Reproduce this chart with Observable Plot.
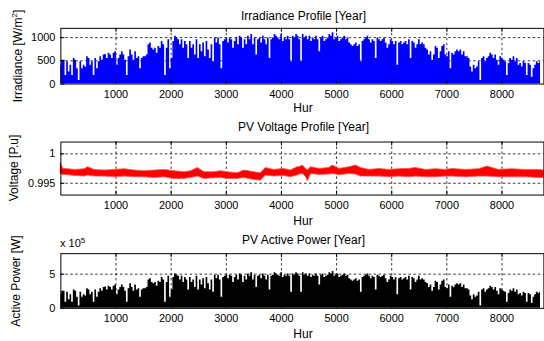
<!DOCTYPE html>
<html><head><meta charset="utf-8">
<script src="https://cdn.jsdelivr.net/npm/d3@7"></script>
<script src="https://cdn.jsdelivr.net/npm/@observablehq/plot@0.6"></script>
<style>
body{margin:0;background:#fff;}
#wrap{position:relative;width:544px;height:341px;overflow:hidden;font-family:"Liberation Sans",Arial,sans-serif;color:#000;}
#wrap svg{position:absolute;left:0;}
.t{position:absolute;font-size:12px;white-space:nowrap;transform:translate(-50%,-50%);line-height:14px;}
.yl{position:absolute;font-size:12px;white-space:nowrap;transform:translate(-50%,-50%) rotate(-90deg);line-height:14px;}
.sup{font-size:8px;position:relative;top:-5px;}
</style></head><body><div id="wrap"></div><script>
const STEP = 30.1;
const xTicks = [1000, 2000, 3000, 4000, 5000, 6000, 7000, 8000];
const irrTicks = [0, 500, 1000];
const voltTicks = [0.995, 1];
const powTicks = [0, 5];

// Irradiance envelope [W/m^2]
const irradiance = [
404,515,515,184,478,257,404,184,551,515,331,74,478,331,404,368,588,551,404,478,
184,551,331,478,588,515,625,639,551,662,625,551,662,698,404,551,625,698,625,515,
184,588,735,625,515,698,551,588,331,551,588,588,625,845,882,772,735,772,662,809,
772,919,845,184,772,956,331,551,919,1029,992,956,
845,956,772,919,845,551,919,772,845,625,956,551,845,698,882,588,919,735,551,845,
478,992,882,992,845,331,919,956,992,882,992,956,772,919,992,845,1029,992,772,956,
845,1029,956,1066,845,992,625,956,992,882,1029,956,845,992,551,956,992,1066,1029,992,
956,1066,919,992,956,1029,956,478,1029,992,1066,1029,956,
478,1066,992,1029,956,1029,919,992,956,1029,956,698,992,1029,919,956,992,1066,1029,1103,
956,992,1029,919,956,992,1029,956,992,882,845,809,845,882,809,845,478,919,956,992,
1029,956,882,956,919,551,992,956,919,956,992,882,772,845,956,919,845,919,404,882,
919,845,882,919,845,956,551,919,882,772,845,956,
845,882,845,772,735,625,698,515,625,809,772,551,698,809,845,625,588,698,331,662,
625,698,735,698,735,625,698,588,588,551,368,257,404,331,368,478,74,551,588,478,
551,588,662,625,551,625,515,404,588,551,515,478,184,441,551,515,588,478,551,404,
441,368,478,441,184,441,404,147,331,404,478,441,478
];

// Active power envelope [x 1e5 W]
const power = [
1.98,2.52,2.52,0.90,2.34,1.26,1.98,0.90,2.70,2.52,1.62,0.36,2.34,1.62,1.98,1.80,2.88,2.70,1.98,2.34,
0.90,2.70,1.62,2.34,2.88,2.52,3.06,3.13,2.70,3.24,3.06,2.70,3.24,3.42,1.98,2.70,3.06,3.42,3.06,2.52,
0.90,2.88,3.60,3.06,2.52,3.42,2.70,2.88,1.62,2.70,2.88,2.88,3.06,4.14,4.32,3.78,3.60,3.78,3.24,3.96,
3.78,4.50,4.14,0.90,3.78,4.68,1.62,2.70,4.50,5.04,4.86,4.68,
4.14,4.68,3.78,4.50,4.14,2.70,4.50,3.78,4.14,3.06,4.68,2.70,4.14,3.42,4.32,2.88,4.50,3.60,2.70,4.14,
2.34,4.86,4.32,4.86,4.14,1.62,4.50,4.68,4.86,4.32,4.86,4.68,3.78,4.50,4.86,4.14,5.04,4.86,3.78,4.68,
4.14,5.04,4.68,5.22,4.14,4.86,3.06,4.68,4.86,4.32,5.04,4.68,4.14,4.86,2.70,4.68,4.86,5.22,5.04,4.86,
4.68,5.22,4.50,4.86,4.68,5.04,4.68,2.34,5.04,4.86,5.22,5.04,4.68,
2.34,5.22,4.86,5.04,4.68,5.04,4.50,4.86,4.68,5.04,4.68,3.42,4.86,5.04,4.50,4.68,4.86,5.22,5.04,5.40,
4.68,4.86,5.04,4.50,4.68,4.86,5.04,4.68,4.86,4.32,4.14,3.96,4.14,4.32,3.96,4.14,2.34,4.50,4.68,4.86,
5.04,4.68,4.32,4.68,4.50,2.70,4.86,4.68,4.50,4.68,4.86,4.32,3.78,4.14,4.68,4.50,4.14,4.50,1.98,4.32,
4.50,4.14,4.32,4.50,4.14,4.68,2.70,4.50,4.32,3.78,4.14,4.68,
4.14,4.32,4.14,3.78,3.60,3.06,3.42,2.52,3.06,3.96,3.78,2.70,3.42,3.96,4.14,3.06,2.88,3.42,1.62,3.24,
3.06,3.42,3.60,3.42,3.60,3.06,3.42,2.88,2.88,2.70,1.80,1.26,1.98,1.62,1.80,2.34,0.36,2.70,2.88,2.34,
2.70,2.88,3.24,3.06,2.70,3.06,2.52,1.98,2.88,2.70,2.52,2.34,0.90,2.16,2.70,2.52,2.88,2.34,2.70,1.98,
2.16,1.80,2.34,2.16,0.90,2.16,1.98,0.72,1.62,1.98,2.34,2.16,2.34
];

// Voltage band (lower / upper edge of the noisy trace) [p.u.]
const voltHours = [0,42,132,253,434,494,614,795,976,1157,1337,1518,1699,1880,2061,2241,2362,2482,2603,2784,
2904,3024,3205,3326,3506,3627,3717,3868,4048,4169,4290,4327,4388,4448,4478,4539,4690,4871,4931,5052,
5232,5353,5443,5594,5775,5956,6137,6318,6439,6620,6800,6981,7102,7343,7585,7735,7946,8187,8429,8670,8760];
const voltLow = [0.99659,0.99642,0.99636,0.99625,0.99614,0.99631,0.99614,0.99614,0.99602,0.99614,0.99602,0.99602,0.99591,0.99602,0.99574,0.99574,0.99591,0.99614,0.99574,0.99585,
0.99591,0.99574,0.99574,0.99591,0.99557,0.99545,0.99631,0.99614,0.99625,0.99602,0.99631,0.99648,0.99659,0.99602,0.99534,0.99659,0.99642,0.99648,0.99659,0.99636,
0.99659,0.99648,0.99614,0.99614,0.99614,0.99602,0.99614,0.99602,0.99614,0.99602,0.99602,0.99614,0.99614,0.99602,0.99614,0.99614,0.99602,0.99602,0.99602,0.99591,0.99591];
const voltHigh = [0.99841,0.99744,0.99739,0.99727,0.99739,0.99773,0.99727,0.99716,0.99727,0.99739,0.99716,0.99705,0.99716,0.99727,0.99705,0.99688,0.99705,0.99761,0.99688,0.99688,
0.99705,0.99688,0.99670,0.99716,0.99688,0.99670,0.99761,0.99727,0.99744,0.99716,0.99773,0.99773,0.99801,0.99744,0.99716,0.99773,0.99744,0.99761,0.99801,0.99744,
0.99773,0.99801,0.99761,0.99727,0.99744,0.99727,0.99739,0.99744,0.99761,0.99727,0.99739,0.99727,0.99744,0.99727,0.99739,0.99784,0.99727,0.99739,0.99727,0.99727,0.99716];

const irrData = irradiance.map((v, i) => ({h: i * STEP, v}));
const powData = power.map((v, i) => ({h: i * STEP, v}));
const voltData = voltHours.map((h, i) => ({h, lo: voltLow[i], hi: voltHigh[i]}));

const wrap = document.getElementById("wrap");
const X0 = 0, X1 = 8760;

function panel({top, height, mt, mb, yDomain, yTicks, yFmt, gridY, dataMarks}) {
  const ph = height - mt - mb;
  const [d0, d1] = yDomain;
  const tickY = 4 / ph * (d1 - d0);
  const tickX = 4 / 486 * (X1 - X0);
  const grid = {stroke: "#000", strokeDasharray: "2.5,2.5", strokeWidth: 0.8};
  const svg = Plot.plot({
    width: 547, height, marginLeft: 60.7, marginRight: 0.6, marginTop: mt, marginBottom: mb,
    style: {fontFamily: "'Liberation Sans', Arial, sans-serif", fontSize: "11px", color: "#000", background: "transparent"},
    x: {domain: [X0, X1], ticks: xTicks, tickSize: 0, tickPadding: 6, label: null, tickFormat: d => String(d)},
    y: {domain: yDomain, ticks: yTicks, tickSize: 0, tickPadding: 5.5, label: null, tickFormat: yFmt},
    marks: [
      Plot.ruleX(xTicks, grid),
      Plot.ruleY(gridY, grid),
      ...dataMarks,
      Plot.ruleX(xTicks, {y1: d0, y2: d0 + tickY, stroke: "#000"}),
      Plot.ruleX(xTicks, {y1: d1, y2: d1 - tickY, stroke: "#000"}),
      Plot.ruleY(yTicks, {x1: X0, x2: X0 + tickX, stroke: "#000"}),
      Plot.frame({stroke: "#000"})
    ]
  });
  svg.style.top = top + "px";
  wrap.appendChild(svg);
}

panel({top: 0, height: 115, mt: 28, mb: 31, yDomain: [0, 1200], yTicks: irrTicks, yFmt: d => String(d), gridY: [500, 1000],
  dataMarks: [Plot.areaY(irrData, {x: "h", y: "v", fill: "#0000ff", curve: "step"})]});
panel({top: 115, height: 113, mt: 26.7, mb: 33, yDomain: [0.993, 1.002], yTicks: voltTicks, yFmt: d => String(d), gridY: voltTicks,
  dataMarks: [Plot.areaY(voltData, {x: "h", y1: "lo", y2: "hi", fill: "#ff0000", stroke: "#ff5050", strokeWidth: 0.8, curve: "linear"})]});
panel({top: 228, height: 113, mt: 25.3, mb: 32.7, yDomain: [0, 8], yTicks: powTicks, yFmt: d => String(d), gridY: [5],
  dataMarks: [Plot.areaY(powData, {x: "h", y: "v", fill: "#000000", curve: "step"})]});

function label(cls, html, x, y) {
  const d = document.createElement("div");
  d.className = cls;
  d.innerHTML = html;
  d.style.left = x + "px";
  d.style.top = y + "px";
  wrap.appendChild(d);
}
label("t", "Irradiance Profile [Year]", 303.5, 15.5);
label("t", "PV Voltage Profile [Year]", 303.5, 127);
label("t", "PV Active Power [Year]", 303.5, 239.5);
label("t", "Hur", 303, 108);
label("t", "Hur", 303, 221);
label("t", "Hur", 303, 333.5);
label("yl", "Irradiance [W/m<span class='sup'>2</span>]", 19, 56);
label("yl", "Voltage [P.u]", 13.5, 168.4);
label("yl", "Active Power [W]", 15.7, 280.8);
const ex = document.createElement("div");
ex.style.cssText = "position:absolute;left:60px;top:237px;font-size:11px;white-space:nowrap;line-height:13px;";
ex.innerHTML = "x 10<span style='font-size:8px;position:relative;top:-4px'>5</span>";
wrap.appendChild(ex);
</script></body></html>
